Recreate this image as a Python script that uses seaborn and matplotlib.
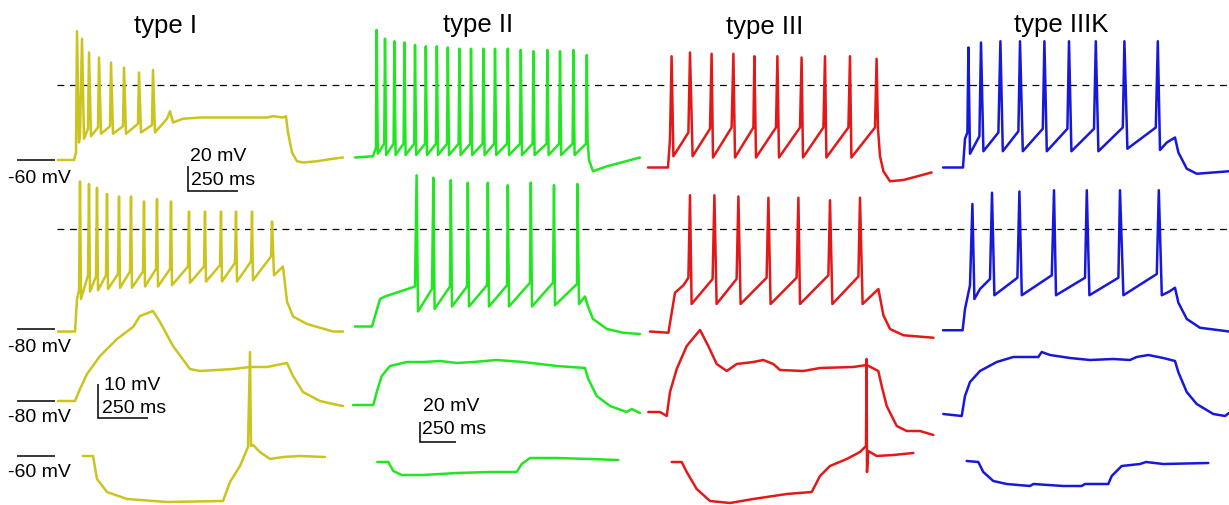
import matplotlib
matplotlib.use("Agg")
import matplotlib.pyplot as plt
import seaborn as sns
import pandas as pd

sns.set_theme(style="white")
plt.rcParams['font.family'] = ['Liberation Sans', 'DejaVu Sans']
plt.rcParams['text.color'] = 'black'

# ------------------------------------------------------------------ data
cell_types = ["type I", "type II", "type III", "type IIIK"]
baseline_labels = ["-60 mV", "-80 mV", "-80 mV", "-60 mV"]
baseline_mV = [-60, -80, -80, -60]

# ---- type I (time in ms, membrane potential in mV)
I_r1_t = [0, 80, 90, 95, 105, 110, 120, 130, 150, 155, 165, 200, 205, 215, 260, 265, 275, 325, 330, 340,
          400, 405, 415, 470, 475, 485, 545, 560, 575, 625, 710, 875, 1045, 1075, 1125, 1140, 1150, 1170,
          1195, 1225, 1295, 1375, 1425]
I_r1_v = [-60, -60, -54, 43, -46, -39, 37, -43, -35, 26, -41, -34, 22, -39, -33, 18, -39, -33, 14, -39,
          -31, 10, -38, -32, 12, -38, -27, -21, -30, -27, -26, -26, -26, -25, -26, -25, -38, -54,
          -61, -62, -61, -59, -58]
I_r2_t = [0, 85, 95, 105, 110, 115, 150, 155, 160, 190, 195, 200, 240, 245, 250, 300, 305, 310, 360, 365,
          370, 425, 430, 435, 490, 495, 500, 560, 565, 570, 650, 655, 660, 730, 735, 740, 810, 815, 820,
          885, 890, 895, 965, 970, 975, 1065, 1070, 1080, 1125, 1145, 1175, 1245, 1375, 1425]
I_r2_v = [-82, -82, -56, -49, 38, -56, -37, 36, -50, -38, 33, -49, -37, 28, -48, -36, 26, -47, -34, 26,
          -47, -34, 22, -46, -32, 24, -46, -32, 22, -45, -30, 14, -43, -30, 14, -42, -29, 14, -42,
          -27, 14, -42, -26, 14, -41, -22, 6, -37, -30, -58, -70, -76, -82, -82]
I_r3_t = [0, 85, 110, 145, 210, 295, 375, 410, 475, 510, 575, 660, 710, 875, 960, 1045, 1145, 1175, 1225,
          1310, 1375, 1425]
I_r3_v = [-80, -80, -76.4, -71.9, -66.5, -61.4, -57.8, -54.5, -53, -56.3, -63.5, -70.4, -71, -70.4, -69.8,
          -69.8, -68.6, -72.5, -77.3, -80, -80.9, -81.5]
I_r4_t = [125, 175, 195, 245, 345, 545, 825, 860, 910, 950, 960, 965, 975, 1010, 1060, 1125, 1210, 1335]
I_r4_v = [-60, -60, -66.9, -70.8, -72.9, -73.8, -73.5, -67.8, -63, -57.3, -28.8, -57, -56.7, -58.8, -60.9,
          -60.3, -60, -60.3]

# ---- type II
II_r1_t = [0, 90, 105, 108, 114, 146, 150, 156, 193, 197, 203, 243, 247, 253, 296, 300, 306, 350, 354, 360,
           405, 409, 415, 460, 464, 470, 518, 522, 528, 576, 580, 586, 638, 642, 648, 696, 700, 706,
           760, 764, 770, 825, 829, 835, 888, 892, 898, 958, 962, 968, 1021, 1025, 1031, 1088, 1092, 1098,
           1155, 1159, 1163, 1170, 1190, 1260, 1425]
II_r1_v = [-58, -57, -50, 44, -55, -47, 37, -56, -47, 35, -56, -47, 34, -56, -47, 32, -56, -47, 31, -56,
           -47, 31, -56, -47, 30, -56, -47, 29, -56, -47, 29, -56, -47, 29, -56, -47, 29, -56,
           -47, 29, -56, -47, 28, -56, -47, 27, -56, -47, 28, -56, -47, 27, -56, -47, 28, -56,
           -47, 24, -44, -60, -69, -65, -58]
II_r2_t = [0, 85, 125, 150, 300, 308, 315, 385, 392, 398, 475, 479, 485, 560, 564, 570, 660, 664, 670,
           760, 764, 770, 875, 879, 885, 990, 995, 1000, 1110, 1112, 1120, 1150, 1165, 1190, 1260, 1340, 1425]
II_r2_v = [-78, -78, -56, -54, -46, 43, -66, -48, 41, -64, -46, 39, -62, -46, 37, -62, -45, 37, -62,
           -45, 35, -62, -43, 37, -62, -43, 35, -61, -44, 36, -60, -54, -62, -72, -80, -83, -84]
II_r3_t = [0, 142, 166, 201, 259, 376, 492, 609, 726, 842, 1006, 1192, 1426, 1624, 1647, 1706, 1799, 1916,
           1951, 2009]
II_r3_v = [-80, -80, -67, -51, -41, -37, -37, -36, -38, -37, -35, -37, -41, -43, -54, -71, -81, -87, -84, -88]
II_r4_t = [170, 247, 282, 341, 492, 726, 959, 1146, 1181, 1239, 1426, 1659, 1857]
II_r4_v = [-60, -60, -69, -73, -73, -71, -70, -70, -62, -56, -56, -57, -58]

# ---- type III
III_r1_t = [0, 100, 110, 118, 127, 202, 210, 223, 310, 318, 325, 418, 427, 435, 527, 532, 540, 640, 647, 655,
            760, 768, 775, 877, 885, 892, 1002, 1010, 1017, 1135, 1143, 1150, 1160, 1177, 1210, 1277, 1418]
III_r1_v = [-66, -66, -43, 23, -57, -38, 26, -57, -35, 25, -58, -34, 25, -58, -34, 23, -58, -34, 23, -58,
            -34, 22, -58, -34, 23, -58, -34, 23, -58, -34, 21, -35, -57, -69, -77, -76, -70]
III_r2_t = [0, 92, 125, 167, 192, 200, 208, 313, 322, 333, 433, 442, 453, 583, 592, 603, 733, 742, 750,
            892, 900, 912, 1042, 1050, 1063, 1142, 1167, 1200, 1267, 1417]
III_r2_v = [-82, -83, -51, -45, -39, 27, -60, -40, 27, -60, -40, 26, -60, -39, 25, -60, -39, 25, -60,
            -37, 23, -60, -38, 25, -60, -48, -69, -80, -85, -87]
III_r3_t = [2, 84, 131, 154, 201, 271, 364, 422, 481, 551, 621, 737, 807, 877, 924, 1087, 1204, 1437, 1531,
            1612, 1636, 1671, 1741, 1811, 1904, 1997]
III_r3_v = [-80, -80, -84, -60, -37, -14, 2, -14, -32, -39, -32, -30, -28, -32, -38, -39, -36, -35, -33,
            -39, -54, -74, -94, -99, -99, -103]
III_r4_t = [166, 236, 271, 341, 434, 574, 737, 971, 1146, 1204, 1274, 1391, 1484, 1526, 1530, 1533, 1542,
            1601, 1717, 1857]
III_r4_v = [-60, -60, -70, -87, -99, -101, -97, -92, -90, -74, -64, -57, -50, -44, 43, -70, -49, -54, -53, -51]

# ---- type IIIK
IIIK_r1_t = [0, 100, 110, 122, 127, 135, 182, 190, 202, 277, 287, 299, 377, 385, 399, 499, 507, 519,
             622, 630, 642, 755, 764, 777, 899, 907, 922, 1064, 1074, 1085, 1119, 1160, 1177, 1219, 1269, 1430]
IIIK_r1_v = [-66, -66, -43, -38, 30, -55, -41, 34, -53, -38, 35, -53, -37, 35, -53, -35, 35, -53,
             -35, 35, -53, -35, 35, -53, -34, 35, -51, -34, 35, -52, -46, -42, -54, -67, -71, -69]
IIIK_r2_t = [0, 98, 110, 135, 147, 157, 185, 235, 245, 257, 372, 382, 394, 544, 555, 565, 710, 719, 732,
             877, 885, 902, 1069, 1079, 1094, 1132, 1160, 1177, 1219, 1285, 1430]
IIIK_r2_v = [-81, -81, -64, -45, 20, -56, -48, -40, 29, -53, -39, 30, -53, -37, 31, -53, -39, 31, -53,
             -39, 31, -53, -36, 31, -53, -50, -47, -59, -72, -79, -82]
IIIK_r3_t = [2, 131, 154, 189, 259, 376, 492, 667, 691, 749, 889, 1029, 1192, 1309, 1356, 1437, 1542, 1624,
             1647, 1706, 1776, 1892, 1974, 2002]
IIIK_r3_v = [-80, -82, -62, -48, -37, -28, -23, -23, -18, -21, -24, -26, -25, -26, -23, -21, -24, -27,
             -38, -58, -70, -80, -82, -79]
IIIK_r4_t = [166, 247, 282, 352, 446, 609, 632, 842, 971, 994, 1157, 1181, 1251, 1379, 1421, 1542, 1857]
IIIK_r4_v = [-60, -61, -71, -80, -83, -85, -83, -85, -85, -83, -83, -75, -65, -63, -61, -63, -62]

# scale bars (ms, mV)
scale_spiking = (250, 20)
scale_sub_I = (250, 10)
scale_sub_rest = (250, 20)

# ------------------------------------------------------------------ layout / style
W, H, DPI = 1229, 506, 100
colors = {"type I": "#cbc41e", "type II": "#22e622", "type III": "#e31919", "type IIIK": "#1818d8"}

traces = {
    ("type I", 1): (I_r1_t, I_r1_v), ("type I", 2): (I_r2_t, I_r2_v),
    ("type I", 3): (I_r3_t, I_r3_v), ("type I", 4): (I_r4_t, I_r4_v),
    ("type II", 1): (II_r1_t, II_r1_v), ("type II", 2): (II_r2_t, II_r2_v),
    ("type II", 3): (II_r3_t, II_r3_v), ("type II", 4): (II_r4_t, II_r4_v),
    ("type III", 1): (III_r1_t, III_r1_v), ("type III", 2): (III_r2_t, III_r2_v),
    ("type III", 3): (III_r3_t, III_r3_v), ("type III", 4): (III_r4_t, III_r4_v),
    ("type IIIK", 1): (IIIK_r1_t, IIIK_r1_v), ("type IIIK", 2): (IIIK_r2_t, IIIK_r2_v),
    ("type IIIK", 3): (IIIK_r3_t, IIIK_r3_v), ("type IIIK", 4): (IIIK_r4_t, IIIK_r4_v),
}

# panel geometry: (pixel x of t=0, ms per px, pixel y of reference, reference mV, mV per px)
geom = {
    ("type I", 1): (58, 5, 86, 0, 0.8), ("type II", 1): (355, 5, 86, 0, 0.8),
    ("type III", 1): (648, 5, 86, 0, 0.8), ("type IIIK", 1): (943, 5, 86, 0, 0.8),
    ("type I", 2): (58, 5, 230, 0, 0.8), ("type II", 2): (355, 5, 230, 0, 0.8),
    ("type III", 2): (650, 5, 230, 0, 0.8), ("type IIIK", 2): (943, 5, 230, 0, 0.8),
    ("type I", 3): (58, 5, 402, -80, 0.3), ("type II", 3): (353, 7, 406, -80, 1.0),
    ("type III", 3): (648, 7, 413, -80, 1.0), ("type IIIK", 3): (943, 7, 415, -80, 1.0),
    ("type I", 4): (58, 5, 457, -60, 0.3), ("type II", 4): (353, 7, 463, -60, 1.0),
    ("type III", 4): (648, 7, 463, -60, 1.0), ("type IIIK", 4): (943, 7, 462, -60, 1.0),
}

fig = plt.figure(figsize=(W / DPI, H / DPI), dpi=DPI)
fig.patch.set_facecolor("white")


def limits(ax, g):
    x0, msp, yref, vref, mvp = g
    ax.set_xlim(-x0 * msp, (W - x0) * msp)
    ax.set_ylim(vref - (H - yref) * mvp, vref + yref * mvp)
    ax.axis("off")
    ax.patch.set_alpha(0)


axes = {}
for key, g in geom.items():
    ax = fig.add_axes([0, 0, 1, 1], label=f"{key[0]}-{key[1]}")
    axes[key] = ax

# dashed 0 mV reference lines (rows 1 and 2)
for r in (1, 2):
    ax = axes[("type I", r)]
    ax.axhline(0, xmin=57 / W, xmax=1, color="black", lw=0.9, dashes=(5.5, 4.5), zorder=1)

# traces
for key, (t, v) in traces.items():
    ax = axes[key]
    df = pd.DataFrame({"t": t, "v": v})
    sns.lineplot(data=df, x="t", y="v", ax=ax, sort=False, estimator=None,
                 color=colors[key[0]], lw=1.8, zorder=3)

# baseline markers with labels (type I column)
for r in range(1, 5):
    ax = axes[("type I", r)]
    ax.plot([-205, -15], [baseline_mV[r - 1]] * 2, color="black", lw=1.1, solid_capstyle="butt")

# scale bars
def scale_bar(ax, t0, v0, dt, dv):
    ax.plot([t0, t0, t0 + dt], [v0 + dv, v0, v0], color="black", lw=1.1,
            solid_capstyle="butt", solid_joinstyle="miter")

scale_bar(axes[("type I", 1)], 650, -85, *scale_spiking)
scale_bar(axes[("type I", 3)], 200, -85, *scale_sub_I)
scale_bar(axes[("type II", 3)], 469, -117, *scale_sub_rest)

for key, g in geom.items():
    limits(axes[key], g)

# text overlay in pixel units
tx = fig.add_axes([0, 0, 1, 1], label="text")
tx.set_xlim(0, W)
tx.set_ylim(H, 0)
tx.axis("off")
tx.patch.set_alpha(0)

title_pos = [(166, 33), (478, 32), (765, 34), (1061, 32)]
for name, (x, y) in zip(cell_types, title_pos):
    tx.text(x, y, name, ha="center", va="baseline", fontsize=18.5, color="black")

label_y = [178, 348, 418, 473]
for lab, y in zip(baseline_labels, label_y):
    tx.text(8, y, lab, ha="left", va="center", fontsize=14, color="black")

bar_texts = [
    (190, 156, f"{scale_spiking[1]} mV"), (191, 180, f"{scale_spiking[0]} ms"),
    (104, 386, f"{scale_sub_I[1]} mV"), (102, 409, f"{scale_sub_I[0]} ms"),
    (423, 407, f"{scale_sub_rest[1]} mV"), (422, 430, f"{scale_sub_rest[0]} ms"),
]
for x, y, s in bar_texts:
    tx.text(x, y, s, ha="left", va="center", fontsize=14, color="black")

fig.savefig("out.png", dpi=DPI)
